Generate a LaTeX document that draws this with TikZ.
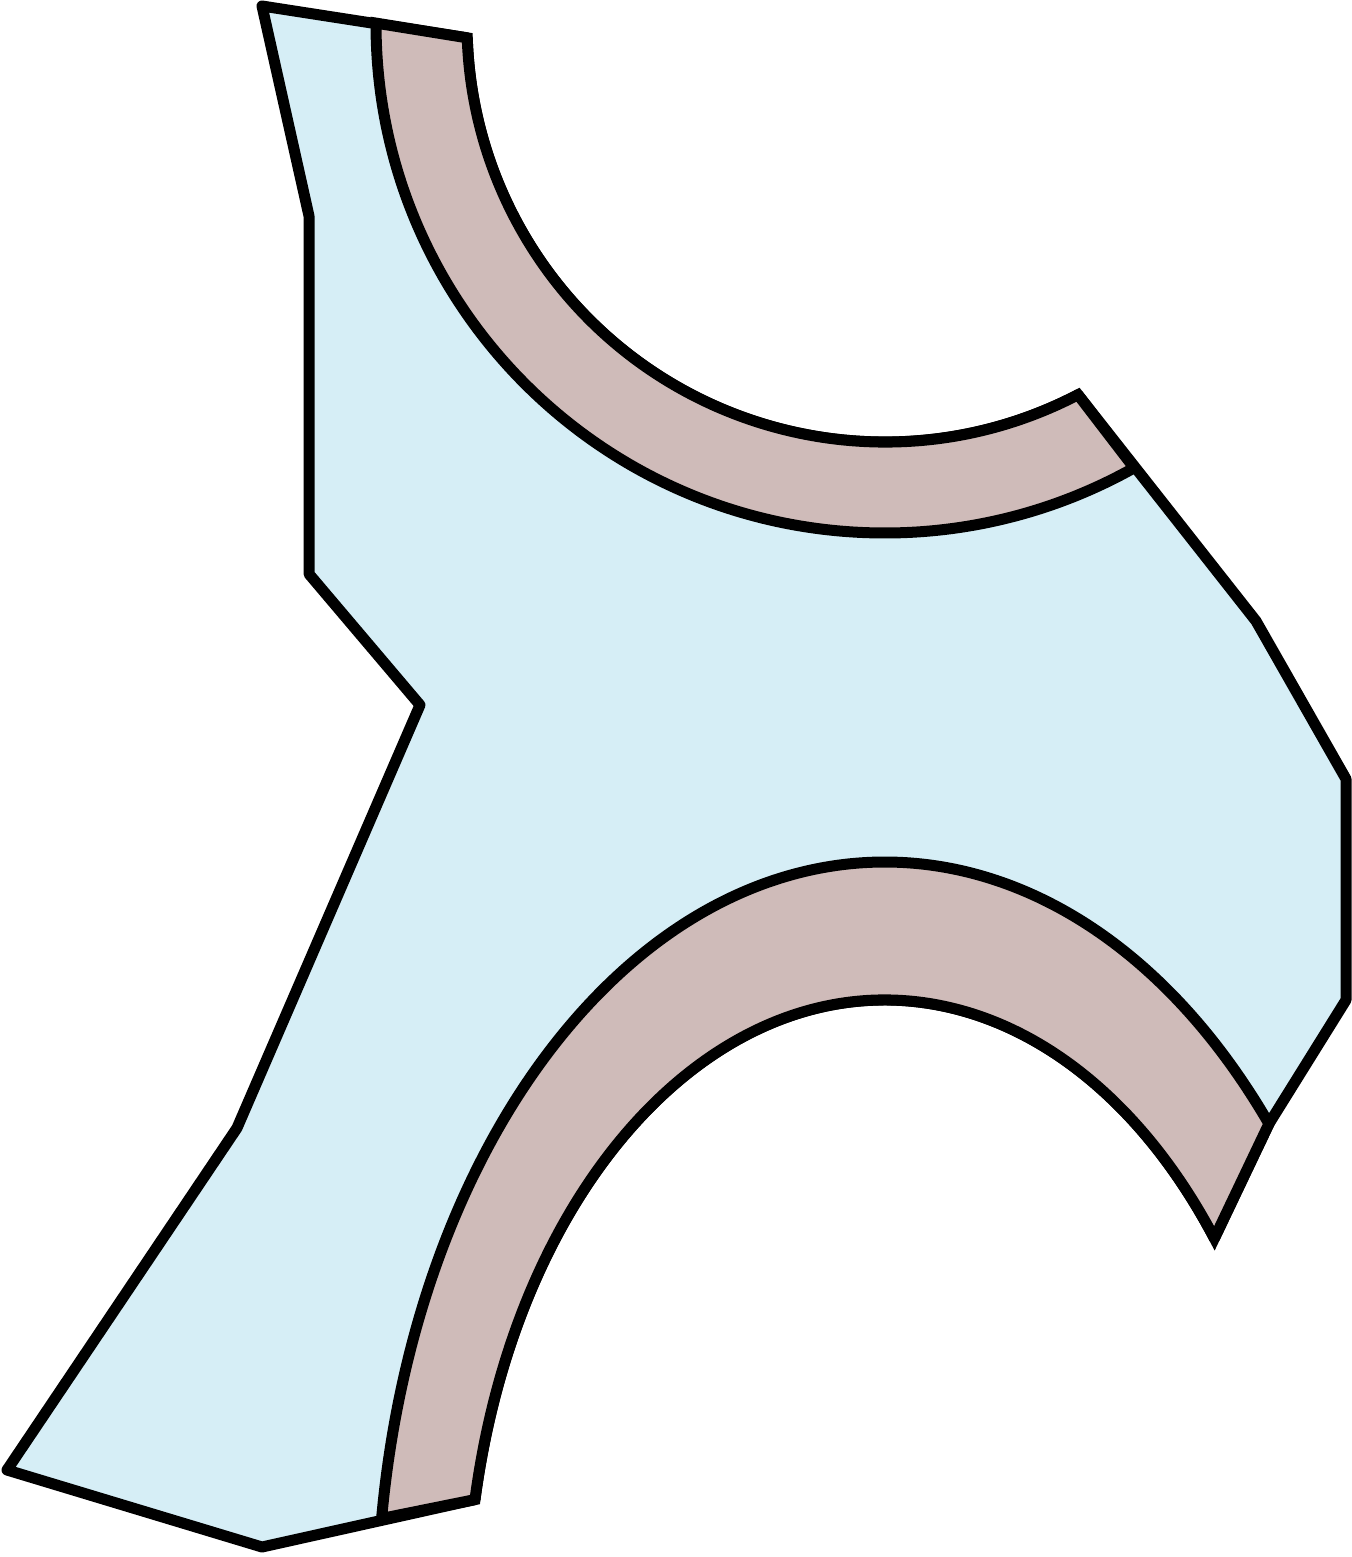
\documentclass[tikz,border=0pt]{standalone}
\usepackage{xcolor}
\definecolor{skyfill}{RGB}{214,238,246}
\definecolor{clayfill}{RGB}{207,187,185}
\tikzset{every picture/.style={line width=5.5pt}}
\tikzset{
bodypart/.style={fill=skyfill, draw=black, line join=round},
rimpart/.style={fill=clayfill, draw=black, line join=miter, miter limit=20}}

\begin{document}
\begin{tikzpicture}[x=0.5pt,y=0.5pt,yscale=-1]
\useasboundingbox (0,0) rectangle (1352,1557);

%Shape: Polygon Curved [body]
\draw [bodypart] (262,6) -- ([shift={(885,24)}]178.1:418)
  arc [start angle=178.1, end angle=62.5, radius=418]
  -- (1256,621) -- (1346,779) -- (1346,1000)
  -- ([shift={(885,1620)}]-40.9:508 and 758)
  -- ([shift={(885,1620)}]-38:418 and 620)
  arc [start angle=-38, end angle=-168.8, x radius=418, y radius=620]
  -- (262,1547) -- (7,1470) -- (237,1128) -- (420,705) -- (309,574) -- (309,216) -- cycle ;

%Shape: Arc band [upper rim]
\draw [rimpart] ([shift={(885,24)}]180.1:509)
  arc [start angle=180.1, end angle=60.7, radius=509]
  -- ([shift={(885,24)}]62.5:418)
  arc [start angle=62.5, end angle=178.1, radius=418] -- cycle ;

%Shape: Arc band [lower rim]
\draw [rimpart] ([shift={(885,1620)}]-40.9:508 and 758)
  arc [start angle=-40.9, end angle=-172.3, x radius=508, y radius=758]
  -- ([shift={(885,1620)}]-168.8:418 and 620)
  arc [start angle=-168.8, end angle=-38, x radius=418, y radius=620] -- cycle ;

\end{tikzpicture}
\end{document}
